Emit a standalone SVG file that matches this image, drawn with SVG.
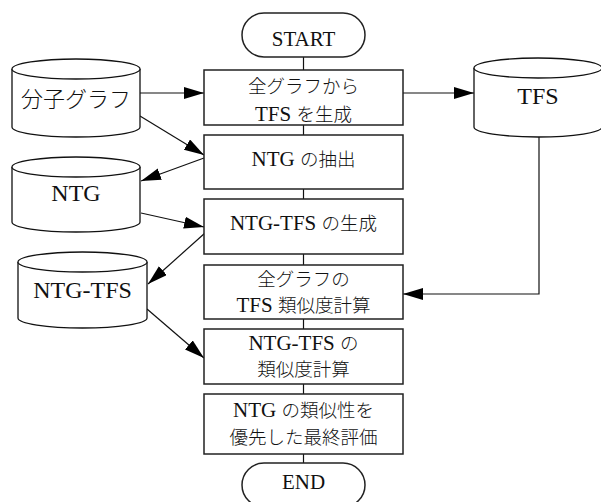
<svg xmlns="http://www.w3.org/2000/svg" width="601" height="502" viewBox="0 0 601 502">
<style>
.box{fill:#fff;stroke:#222;stroke-width:1.5}
.cyl{fill:#fff;stroke:#111;stroke-width:1.3}
.ln{fill:none;stroke:#111;stroke-width:1.2}
.t{font-family:'Liberation Serif',serif;font-weight:400;font-size:21px;fill:#111;text-anchor:middle}
.c{font-size:24px}
.j{font-family:'Noto Sans CJK JP',sans-serif;font-size:18.5px;font-weight:300}
.jc{font-family:'Noto Sans CJK JP',sans-serif;font-size:22px;font-weight:300}
</style>
<defs>
<marker id="ah" markerUnits="userSpaceOnUse" markerWidth="21" markerHeight="13" refX="20" refY="6" orient="auto">
<path d="M0,0 L20,6 L0,12 Z" fill="#000"/>
</marker>
</defs>
<g id="connectors">
<line class="ln" x1="303.5" y1="57" x2="303.5" y2="70"/>
<line class="ln" x1="303.5" y1="125" x2="303.5" y2="135"/>
<line class="ln" x1="303.5" y1="189" x2="303.5" y2="199"/>
<line class="ln" x1="303.5" y1="254" x2="303.5" y2="265"/>
<line class="ln" x1="303.5" y1="319" x2="303.5" y2="329"/>
<line class="ln" x1="303.5" y1="384" x2="303.5" y2="394"/>
<line class="ln" x1="303.5" y1="454" x2="303.5" y2="463"/>
<line class="ln" x1="140" y1="93" x2="204" y2="93" marker-end="url(#ah)"/>
<line class="ln" x1="140" y1="116" x2="204" y2="155" marker-end="url(#ah)"/>
<line class="ln" x1="204" y1="158" x2="141" y2="181" marker-end="url(#ah)"/>
<line class="ln" x1="141" y1="213" x2="204" y2="227" marker-end="url(#ah)"/>
<line class="ln" x1="205" y1="233" x2="148" y2="284" marker-end="url(#ah)"/>
<line class="ln" x1="147" y1="309" x2="204" y2="358" marker-end="url(#ah)"/>
<line class="ln" x1="403" y1="93" x2="474" y2="93" marker-end="url(#ah)"/>
<polyline class="ln" points="539,137 539,294 403,294" marker-end="url(#ah)"/>
</g>
<g id="start">
<rect class="box" x="242" y="13" width="123" height="44" rx="22" ry="22"/>
<text class="t" x="303.5" y="46">START</text>
</g>
<g id="step1">
<rect class="box" x="204" y="70" width="199" height="55"/>
<text class="t" x="303.5" y="93"><tspan class="j">全グラフから</tspan></text>
<text class="t" x="303.5" y="121">TFS <tspan class="j">を生成</tspan></text>
</g>
<g id="step2">
<rect class="box" x="204" y="135" width="199" height="54"/>
<text class="t" x="303.5" y="166">NTG <tspan class="j">の抽出</tspan></text>
</g>
<g id="step3">
<rect class="box" x="204" y="199" width="199" height="55"/>
<text class="t" x="303.5" y="230">NTG-TFS <tspan class="j">の生成</tspan></text>
</g>
<g id="step4">
<rect class="box" x="204" y="265" width="199" height="54"/>
<text class="t" x="303.5" y="286"><tspan class="j">全グラフの</tspan></text>
<text class="t" x="303.5" y="312">TFS <tspan class="j">類似度計算</tspan></text>
</g>
<g id="step5">
<rect class="box" x="204" y="329" width="199" height="55"/>
<text class="t" x="303.5" y="350">NTG-TFS <tspan class="j">の</tspan></text>
<text class="t" x="303.5" y="376"><tspan class="j">類似度計算</tspan></text>
</g>
<g id="step6">
<rect class="box" x="204" y="394" width="199" height="60"/>
<text class="t" x="303.5" y="417">NTG <tspan class="j">の類似性を</tspan></text>
<text class="t" x="303.5" y="444"><tspan class="j">優先した最終評価</tspan></text>
</g>
<g id="end">
<rect class="box" x="242" y="463" width="123" height="44" rx="22" ry="22"/>
<text class="t" x="303.5" y="489">END</text>
</g>
<g id="db-molgraph">
<path class="cyl" d="M12,69 A64,10 0 0,1 140,69 L140,127 A64,10 0 0,1 12,127 Z"/>
<path class="cyl" d="M12,69 A64,10 0 0,0 140,69" fill="none"/>
<text class="t c" x="76" y="107"><tspan class="jc">分子グラフ</tspan></text>
</g>
<g id="db-tfs">
<path class="cyl" d="M474,68 A64,10 0 0,1 602,68 L602,127 A64,10 0 0,1 474,127 Z"/>
<path class="cyl" d="M474,68 A64,10 0 0,0 602,68" fill="none"/>
<text class="t c" x="538" y="104">TFS</text>
</g>
<g id="db-ntg">
<path class="cyl" d="M12,167 A64,10 0 0,1 140,167 L140,222 A64,10 0 0,1 12,222 Z"/>
<path class="cyl" d="M12,167 A64,10 0 0,0 140,167" fill="none"/>
<text class="t c" x="76" y="201">NTG</text>
</g>
<g id="db-ntgtfs">
<path class="cyl" d="M18,262 A64.5,10 0 0,1 147,262 L147,318 A64.5,10 0 0,1 18,318 Z"/>
<path class="cyl" d="M18,262 A64.5,10 0 0,0 147,262" fill="none"/>
<text class="t c" x="82.5" y="298">NTG-TFS</text>
</g>
</svg>
